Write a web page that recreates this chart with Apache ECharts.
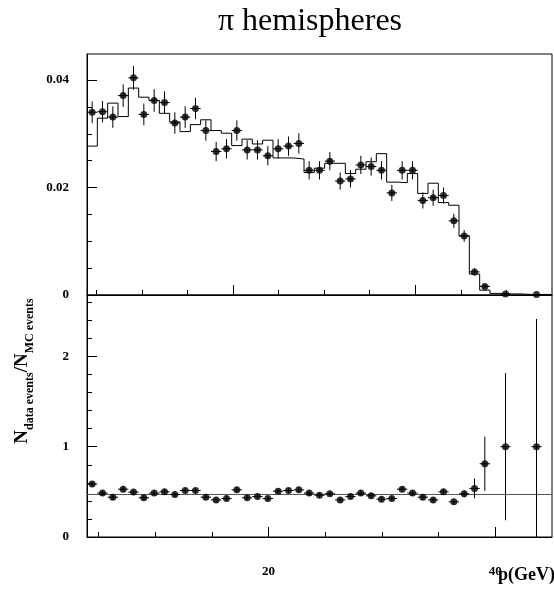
<!DOCTYPE html>
<html>
<head>
<meta charset="utf-8">
<script src="https://cdn.jsdelivr.net/npm/echarts@6/dist/echarts.min.js"></script>
<style>
  html, body { margin: 0; padding: 0; background: #fff; }
  #chart { width: 554px; height: 595px; }
</style>
</head>
<body>
<div id="chart"></div>
<script>
// binning in p (GeV)
var pMin = 4;
var pMax = 45;
var nBins = 45;

// data per bin (null = empty bin)
var dataVals = [0.0340, 0.0341, 0.0331, 0.0371, 0.0404, 0.0336, 0.0362, 0.0358, 0.0320, 0.0331,
  0.0347, 0.0306, 0.0267, 0.0272, 0.0306, 0.0270, 0.0270, 0.0259, 0.0272, 0.0277,
  0.0282, 0.0232, 0.0232, 0.0249, 0.0212, 0.0216, 0.0242, 0.0239, 0.0232, 0.0190,
  0.0232, 0.0232, 0.0176, 0.0181, 0.0185, 0.0138, 0.0110, 0.0043, 0.0016, null,
  0.0002, null, null, 0.0001];
var dataErrs = [0.0020, 0.0020, 0.0020, 0.0021, 0.0022, 0.0020, 0.0021, 0.0021, 0.0020, 0.0020,
  0.0020, 0.0019, 0.0018, 0.0018, 0.0019, 0.0018, 0.0018, 0.0018, 0.0018, 0.0018,
  0.0019, 0.0017, 0.0017, 0.0017, 0.0016, 0.0016, 0.0017, 0.0017, 0.0017, 0.0015,
  0.0017, 0.0017, 0.0015, 0.0015, 0.0015, 0.0013, 0.0011, 0.0007, 0.0004, null,
  0.0001, null, null, 0.0001];
// MC histogram
var mcVals = [0.0277, 0.0329, 0.0357, 0.0332, 0.0385, 0.0368, 0.0362, 0.0338, 0.0322, 0.0304,
  0.0317, 0.0326, 0.0306, 0.0301, 0.0278, 0.0290, 0.0281, 0.0288, 0.0255, 0.0255,
  0.0253, 0.0228, 0.0236, 0.0245, 0.0245, 0.0226, 0.0234, 0.0248, 0.0263, 0.0210,
  0.0209, 0.0226, 0.0189, 0.0208, 0.0172, 0.0167, 0.0110, 0.0039, 0.0009, 0.0003,
  0.0002, 0.0002, 0.0001, 0.0001, 0.0001];
// ratio data / MC
var ratioVals = [0.586, 0.486, 0.441, 0.530, 0.497, 0.434, 0.486, 0.500, 0.471, 0.515,
  0.515, 0.441, 0.411, 0.426, 0.522, 0.434, 0.448, 0.426, 0.508, 0.515,
  0.522, 0.486, 0.463, 0.478, 0.411, 0.448, 0.486, 0.456, 0.419, 0.426,
  0.530, 0.486, 0.441, 0.411, 0.500, 0.389, 0.478, 0.538, 0.811, null,
  1.0, null, null, 1.0];
var ratioErrs = [0.03, 0.03, 0.03, 0.03, 0.03, 0.03, 0.03, 0.03, 0.03, 0.03,
  0.03, 0.03, 0.03, 0.03, 0.03, 0.03, 0.03, 0.03, 0.03, 0.03,
  0.03, 0.03, 0.03, 0.03, 0.03, 0.03, 0.03, 0.03, 0.03, 0.03,
  0.03, 0.03, 0.03, 0.03, 0.03, 0.03, 0.04, 0.11, 0.30, null,
  0.815, null, null, 1.415];
var ratioLevel = 0.471;

// axis ticks
var topXTicks = [4.83, 8.85, 12.87, 16.88, 20.9, 24.92, 28.93, 32.95, 36.97, 40.98];
var topXMajor = [16.88, 32.95];
var botXTicks = [5, 10, 15, 20, 25, 30, 35, 40];
var botXLabels = [20, 40];
var topYTicks = [0.005, 0.01, 0.015, 0.02, 0.025, 0.03, 0.035, 0.04];
var topYLabels = [0, 0.02, 0.04];
var botYTicks = [0.2, 0.4, 0.6, 0.8, 1, 1.2, 1.4, 1.6, 1.8, 2, 2.2, 2.4, 2.6];
var botYLabels = [0, 1, 2];
var topYMax = 0.04484;
var botYMax = 2.68;

var binW = (pMax - pMin) / nBins;
var FONT = "Liberation Serif";

var myChart = echarts.init(document.getElementById("chart"));

function points(vals, errs) {
  var out = [];
  for (var i = 0; i < vals.length; i++) {
    if (vals[i] == null) continue;
    out.push([pMin + (i + 0.5) * binW, vals[i], errs[i]]);
  }
  return out;
}

function histo(vals) {
  var out = [];
  for (var i = 0; i < vals.length; i++) out.push([pMin + i * binW, vals[i]]);
  out.push([pMax, vals[vals.length - 1]]);
  return out;
}

function errBars(yMax) {
  return function (params, api) {
    var x = api.value(0), y = api.value(1), e = api.value(2);
    var lo = Math.max(y - e, 0), hi = Math.min(y + e, yMax);
    var a = api.coord([x, lo]), b = api.coord([x, hi]), c = api.coord([x, y]);
    var hw = api.size([binW, 0])[0] / 2;
    var st = { stroke: "#000", lineWidth: 1 };
    return {
      type: "group",
      children: [
        { type: "line", shape: { x1: a[0], y1: a[1], x2: b[0], y2: b[1] }, style: st },
        { type: "line", shape: { x1: c[0] - hw, y1: c[1], x2: c[0] + hw, y2: c[1] }, style: st },
      ],
    };
  };
}

function xAx(grid, ticks, len, labels, line) {
  return {
    type: "value", gridIndex: grid, position: "bottom", min: pMin, max: pMax,
    axisLine: { show: line, lineStyle: { color: "#000", width: 1 } },
    axisTick: { show: true, inside: true, length: len, customValues: ticks, lineStyle: { color: "#000", width: 1 } },
    axisLabel: labels ? { show: true, customValues: labels, margin: 28, color: "#000",
      fontFamily: FONT, fontWeight: "bold", fontSize: 13 } : { show: false },
    splitLine: { show: false },
  };
}

function yAx(grid, max, ticks, len, labels, line) {
  return {
    type: "value", gridIndex: grid, position: "left", min: 0, max: max,
    axisLine: { show: line, lineStyle: { color: "#000", width: 1 } },
    axisTick: { show: true, inside: true, length: len, customValues: ticks, lineStyle: { color: "#000", width: 1 } },
    axisLabel: labels ? { show: true, customValues: labels, margin: 18, color: "#000",
      fontFamily: FONT, fontWeight: "bold", fontSize: 13 } : { show: false },
    splitLine: { show: false },
  };
}

var option = {
  backgroundColor: "#fff",
  animation: false,
  grid: [
    { left: 87, top: 54, width: 465, height: 241, show: true, borderColor: "#000", borderWidth: 1, backgroundColor: "transparent" },
    { left: 87, top: 295, width: 465, height: 242, show: true, borderColor: "#000", borderWidth: 1, backgroundColor: "transparent" },
  ],
  xAxis: [
    xAx(0, topXTicks, 5, null, true),
    xAx(0, topXMajor, 10, null, false),
    xAx(1, botXTicks, 5, null, true),
    xAx(1, botXLabels, 10, botXLabels, false),
  ],
  yAxis: [
    yAx(0, topYMax, topYTicks, 5, null, true),
    yAx(0, topYMax, topYLabels, 10, topYLabels, false),
    yAx(1, botYMax, botYTicks, 5, null, true),
    yAx(1, botYMax, botYLabels, 10, botYLabels, false),
  ],
  graphic: [
    { type: "text", x: 310, y: 22, style: { text: "π hemispheres", font: "32px " + FONT, fill: "#000", align: "center", verticalAlign: "middle" } },
    { type: "text", x: 498, y: 575, style: { text: "p(GeV)", font: "bold 18px " + FONT, fill: "#000", align: "left", verticalAlign: "middle" } },
    {
      type: "text", x: 24, y: 371, rotation: Math.PI / 2,
      style: {
        text: "{n|N}{s|data events}{n|/N}{s|MC events}",
        align: "center", verticalAlign: "middle", fill: "#000",
        rich: {
          n: { fontFamily: FONT, fontWeight: "bold", fontSize: 19, verticalAlign: "bottom", padding: [0, 0, 4, 0] },
          s: { fontFamily: FONT, fontWeight: "bold", fontSize: 12, verticalAlign: "bottom" },
        },
      },
    },
  ],
  series: [
    {
      type: "line", xAxisIndex: 0, yAxisIndex: 0, step: "end", data: histo(mcVals),
      symbol: "none", lineStyle: { color: "#000", width: 1 }, z: 2,
    },
    {
      type: "custom", xAxisIndex: 0, yAxisIndex: 0, data: points(dataVals, dataErrs),
      renderItem: errBars(topYMax), z: 3,
    },
    {
      type: "scatter", xAxisIndex: 0, yAxisIndex: 0, data: points(dataVals, dataErrs),
      symbolSize: 7, itemStyle: { color: "#000" }, z: 4,
    },
    {
      type: "line", xAxisIndex: 2, yAxisIndex: 2, data: [[pMin, ratioLevel], [pMax, ratioLevel]],
      symbol: "none", lineStyle: { color: "#555", width: 1 }, z: 2,
    },
    {
      type: "custom", xAxisIndex: 2, yAxisIndex: 2, data: points(ratioVals, ratioErrs),
      renderItem: errBars(botYMax), z: 3,
    },
    {
      type: "scatter", xAxisIndex: 2, yAxisIndex: 2, data: points(ratioVals, ratioErrs),
      symbolSize: 7, itemStyle: { color: "#000" }, z: 4,
    },
  ],
};

myChart.setOption(option);
</script>
</body>
</html>
